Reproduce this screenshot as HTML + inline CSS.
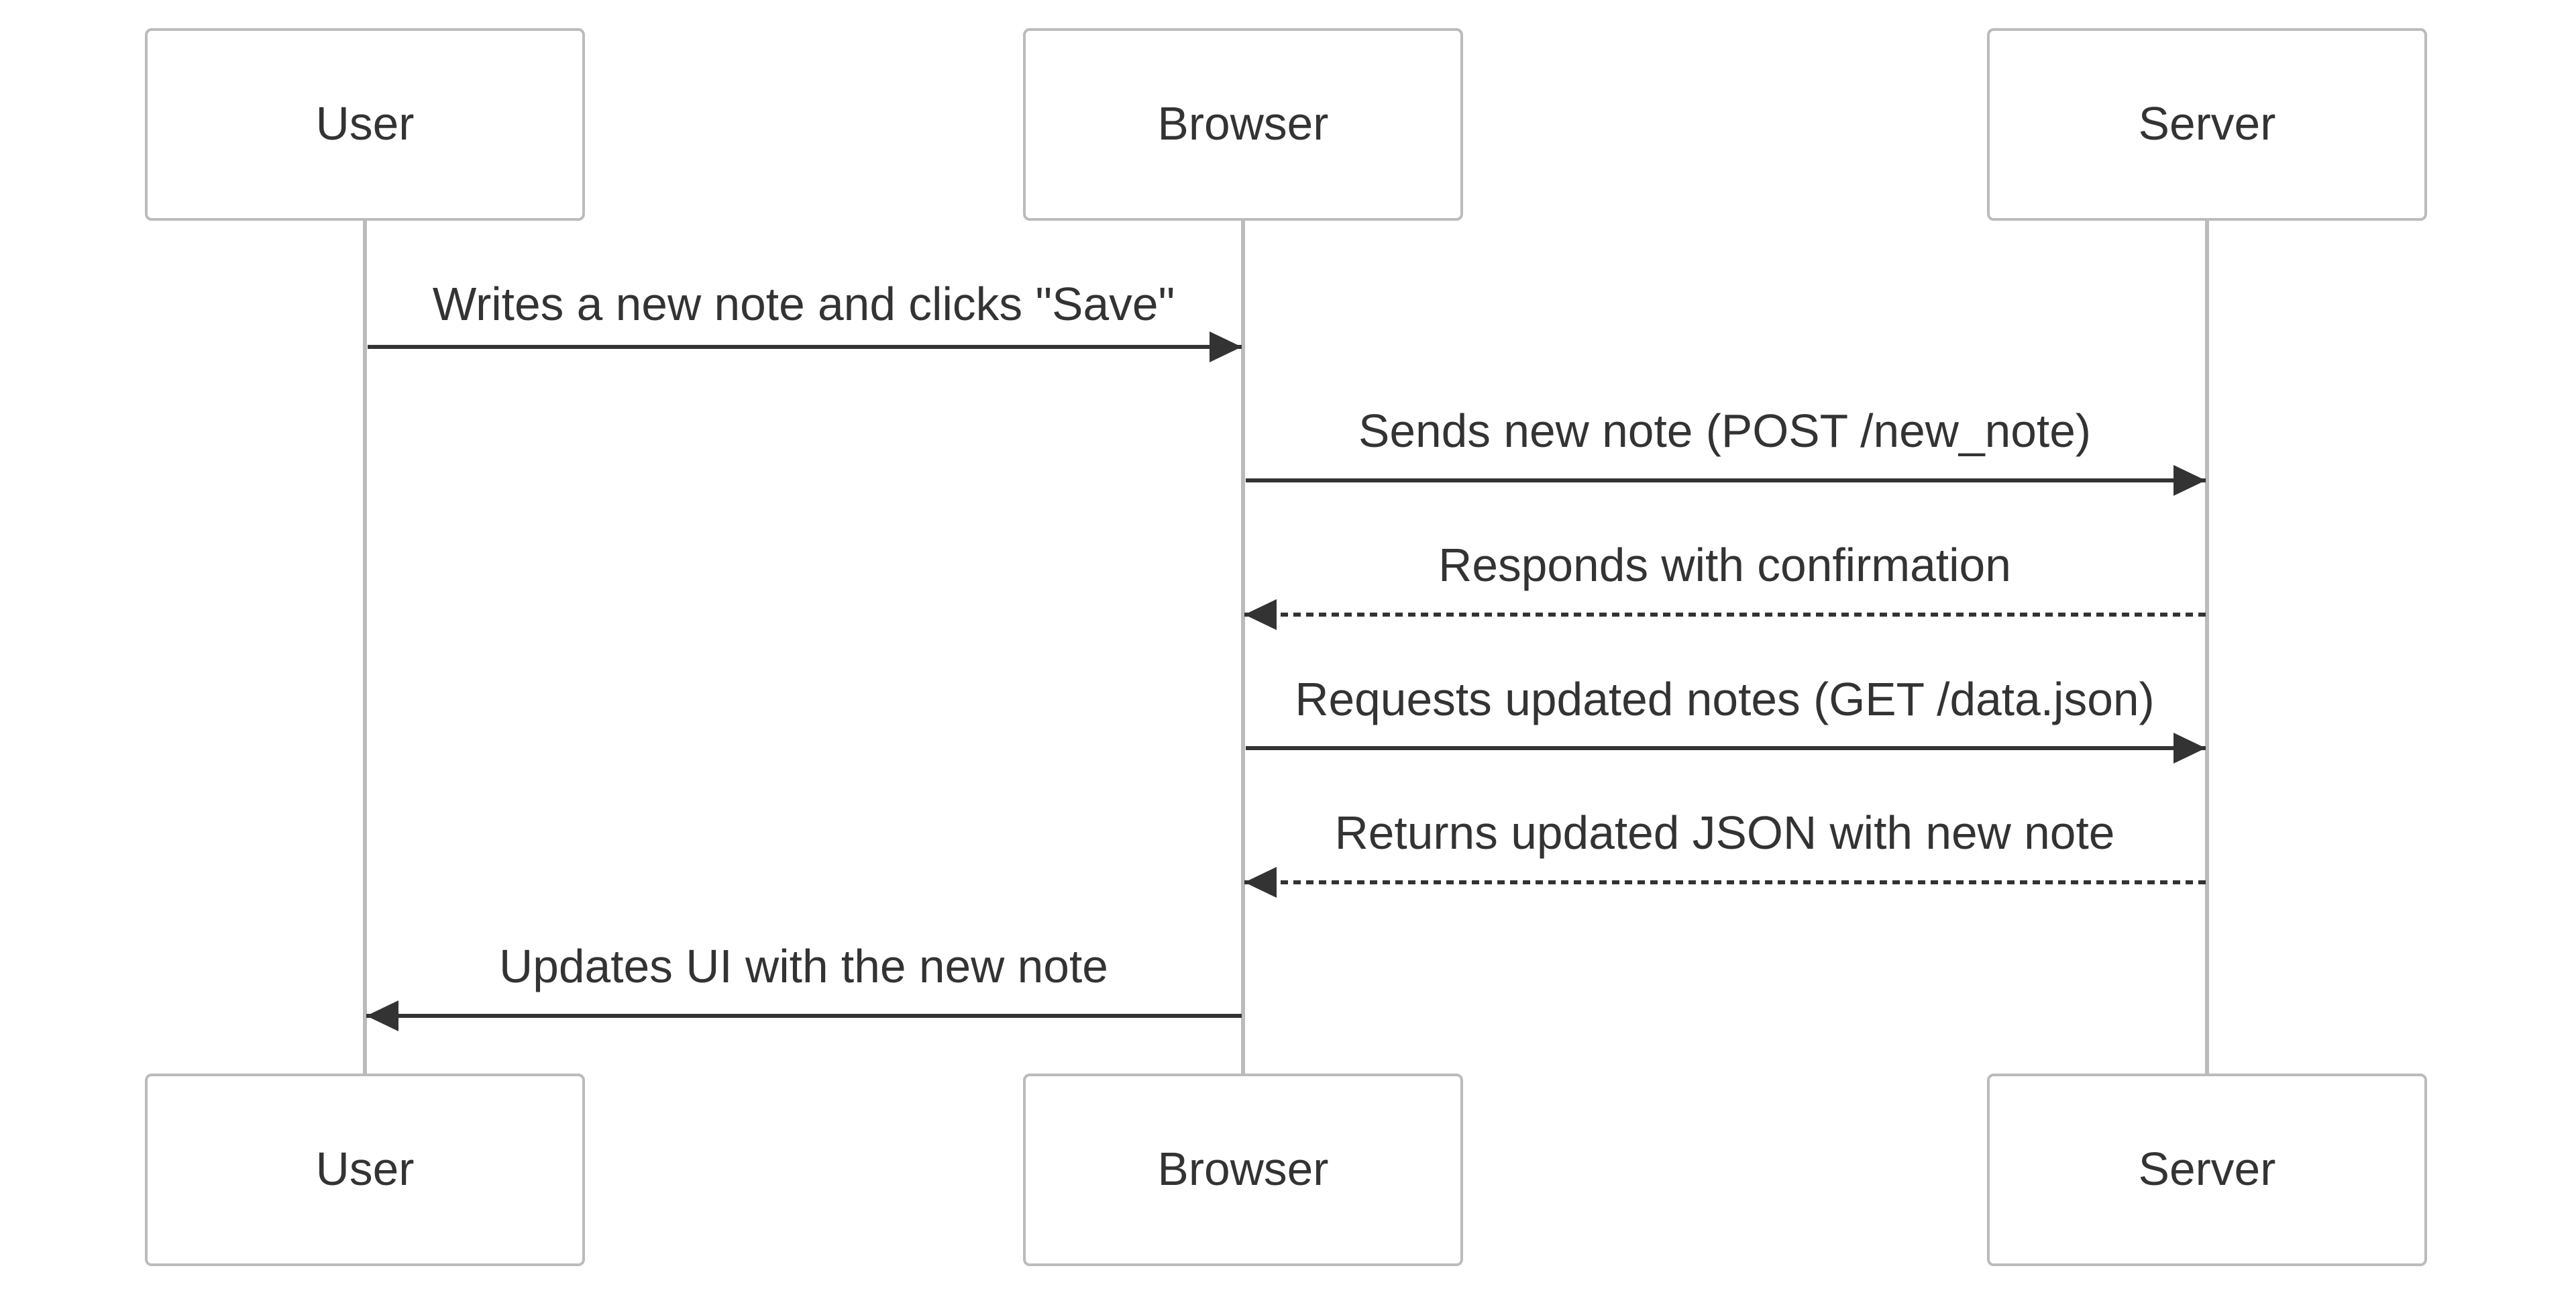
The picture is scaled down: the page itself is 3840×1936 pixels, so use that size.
<!DOCTYPE html>
<html><head><meta charset="utf-8"><style>
html,body{margin:0;padding:0;background:#fff;}
svg{display:block;}
text{font-family:"Liberation Sans",Arial,sans-serif;fill:#333;}
</style></head><body>
<svg width="3840" height="1936" viewBox="0 0 3840 1936" xmlns="http://www.w3.org/2000/svg">
<defs>
<marker id="ah" markerWidth="48" markerHeight="46" refX="48" refY="23" orient="auto" markerUnits="userSpaceOnUse">
<path d="M0,0 L48,23 L0,46 z" fill="#333"/>
</marker>
</defs>
<g stroke="#bbb" stroke-width="6">
<line x1="544" y1="327" x2="544" y2="1601"/>
<line x1="1853" y1="327" x2="1853" y2="1601"/>
<line x1="3290" y1="327" x2="3290" y2="1601"/>
</g>
<g fill="#fff" stroke="#bbb" stroke-width="4">
<rect x="218" y="44" width="652" height="283" rx="8"/>
<rect x="1527" y="44" width="652" height="283" rx="8"/>
<rect x="2964" y="44" width="652" height="283" rx="8"/>
<rect x="218" y="1602" width="652" height="283" rx="8"/>
<rect x="1527" y="1602" width="652" height="283" rx="8"/>
<rect x="2964" y="1602" width="652" height="283" rx="8"/>
</g>
<g font-size="69.5" text-anchor="middle">
<text x="544" y="208">User</text>
<text x="1853" y="208">Browser</text>
<text x="3290" y="208">Server</text>
<text x="544" y="1766">User</text>
<text x="1853" y="1766">Browser</text>
<text x="3290" y="1766">Server</text>
<text x="1198" y="477">Writes a new note and clicks "Save"</text>
<text x="2571" y="666">Sends new note (POST /new_note)</text>
<text x="2571" y="866">Responds with confirmation</text>
<text x="2571" y="1066">Requests updated notes (GET /data.json)</text>
<text x="2571" y="1265">Returns updated JSON with new note</text>
<text x="1198" y="1464">Updates UI with the new note</text>
</g>
<g stroke="#333" stroke-width="6" fill="none">
<line x1="548" y1="517" x2="1851" y2="517" marker-end="url(#ah)"/>
<line x1="1857" y1="716" x2="3288" y2="716" marker-end="url(#ah)"/>
<line x1="3288" y1="916" x2="1855" y2="916" stroke-dasharray="11 8" marker-end="url(#ah)"/>
<line x1="1857" y1="1115" x2="3288" y2="1115" marker-end="url(#ah)"/>
<line x1="3288" y1="1315" x2="1855" y2="1315" stroke-dasharray="11 8" marker-end="url(#ah)"/>
<line x1="1851" y1="1514" x2="546" y2="1514" marker-end="url(#ah)"/>
</g>
</svg>
</body></html>
